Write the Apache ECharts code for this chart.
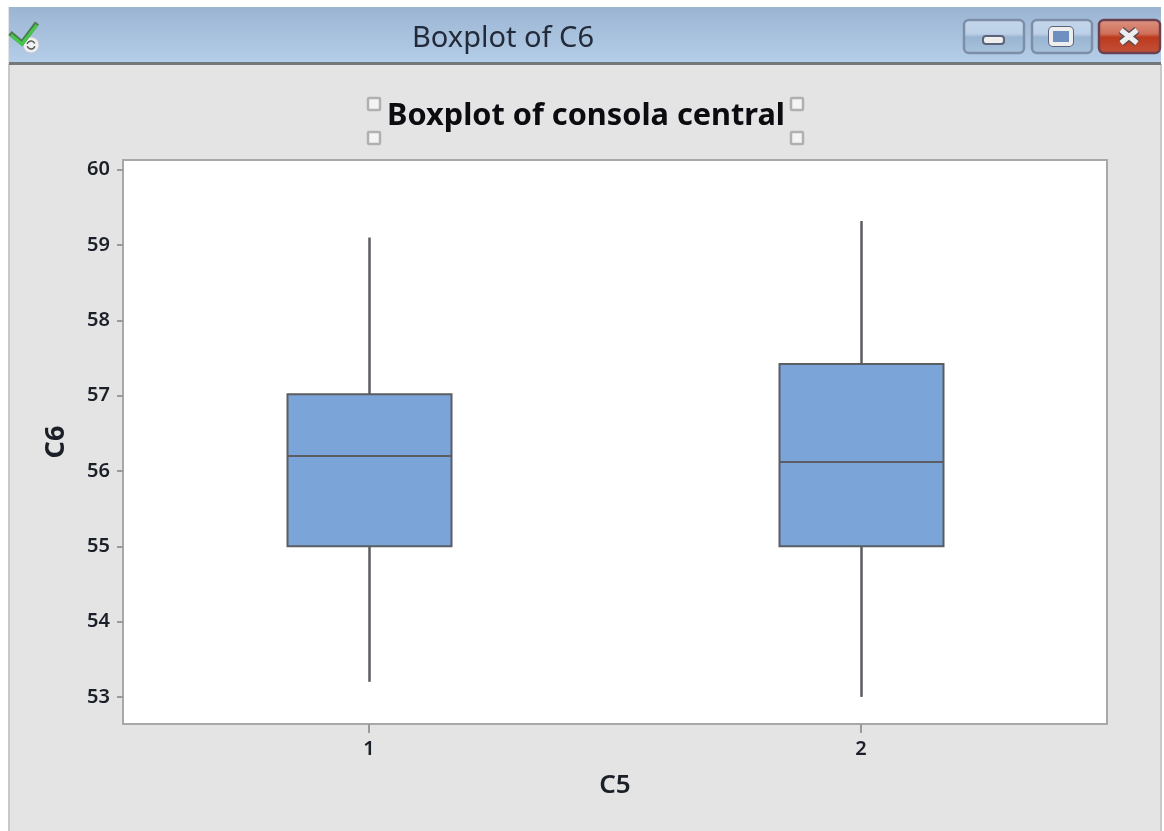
<!DOCTYPE html>
<html><head><meta charset="utf-8">
<style>html,body{margin:0;padding:0;background:#fff}#c{width:1164px;height:831px}</style>
<script src="https://cdn.jsdelivr.net/npm/echarts@6/dist/echarts.min.js"></script>
</head><body><div id="c"></div>
<script>
const categories = ['1', '2'];
const whiskerLow = [53.2, 53.0];
const q1 = [55.0, 55.0];
const median = [56.2, 56.12];
const q3 = [57.02, 57.42];
const whiskerHigh = [59.1, 59.32];
const yTicks = [53, 54, 55, 56, 57, 58, 59, 60];
const chartTitle = 'Boxplot of consola central';
const windowTitle = 'Boxplot of C6';
const xName = 'C5';
const yName = 'C6';

const FONT = '"Noto Sans", "Open Sans", sans-serif';
const TXT = '#1b1f28';
const LINE = '#5a5d62';
const FILL = '#7ba5d8';

const chart = echarts.init(document.getElementById('c'), null, {renderer: 'canvas'});

function handle(x, y) {
  return {type: 'rect', shape: {x: x, y: y, width: 12, height: 12, r: 1},
    style: {fill: '#f4f4f4', stroke: '#b0b0b0', lineWidth: 2.5}, z: -5};
}
function winButton(x, w, top, mid1, mid2, bottom, stroke) {
  return {type: 'rect', shape: {x: x, y: 20, width: w, height: 33, r: 5},
    style: {
      fill: new echarts.graphic.LinearGradient(0, 0, 0, 1, [
        {offset: 0, color: top}, {offset: 0.42, color: mid1},
        {offset: 0.52, color: mid2}, {offset: 1, color: bottom}]),
      stroke: stroke, lineWidth: 2.5}, z: -5};
}

const chrome = [
  {type: 'rect', shape: {x: 8, y: 7, width: 1153, height: 824}, style: {fill: '#e4e4e4'}, z: -10},
  {type: 'rect', shape: {x: 8, y: 64, width: 2, height: 767}, style: {fill: '#c8c8c8'}, z: -9},
  {type: 'rect', shape: {x: 1160, y: 64, width: 2, height: 767}, style: {fill: '#c8c8c8'}, z: -9},
  {type: 'rect', shape: {x: 9, y: 7, width: 1152, height: 55},
    style: {fill: new echarts.graphic.LinearGradient(0, 0, 0, 1, [
      {offset: 0, color: '#9ab4d2'}, {offset: 1, color: '#b4cee9'}])}, z: -9},
  {type: 'rect', shape: {x: 9, y: 62, width: 1152, height: 3}, style: {fill: '#74787c'}, z: -8},
  {type: 'circle', shape: {cx: 31, cy: 45, r: 8}, style: {fill: '#eef0f2', stroke: '#c4c8ce', lineWidth: 1}, z: -7},
  {type: 'polyline', shape: {points: [[10, 33], [22, 43], [37, 23]]},
    style: {stroke: '#4d7a52', fill: 'none', lineWidth: 5}, z: -6},
  {type: 'polyline', shape: {points: [[11, 35], [22, 44], [37, 25]]},
    style: {stroke: '#45c84a', fill: 'none', lineWidth: 3}, z: -5},
  {type: 'arc', shape: {cx: 31, cy: 45, r: 4, startAngle: 0.3, endAngle: 2.8}, style: {stroke: '#555', fill: 'none', lineWidth: 1.5}, z: -5},
  {type: 'arc', shape: {cx: 31, cy: 45, r: 4, startAngle: 3.4, endAngle: 5.9}, style: {stroke: '#555', fill: 'none', lineWidth: 1.5}, z: -5},
  {type: 'text', style: {x: 503, y: 39, text: windowTitle, fill: '#232a3a', font: '29px ' + FONT, textAlign: 'center', textVerticalAlign: 'middle'}, z: -5},
  winButton(964, 60, '#c4d7ec', '#bcd0e7', '#9ab5d1', '#a9c3de', '#7d8ea6'),
  winButton(1032, 60, '#c4d7ec', '#bcd0e7', '#9ab5d1', '#a9c3de', '#7d8ea6'),
  winButton(1099, 61, '#dd9584', '#d0705a', '#bd3a1d', '#c2533a', '#6b4150'),
  {type: 'rect', shape: {x: 983, y: 36, width: 21, height: 8, r: 3}, style: {fill: '#eeeeee', stroke: '#5c6378', lineWidth: 2}, z: -4},
  {type: 'rect', shape: {x: 1051, y: 29, width: 20, height: 15, r: 2}, style: {fill: '#6f8fc0', stroke: '#5c6378', lineWidth: 6}, z: -4},
  {type: 'rect', shape: {x: 1051, y: 29, width: 20, height: 15, r: 2}, style: {fill: '#6f8fc0', stroke: '#eeeeee', lineWidth: 4}, z: -3},
  {type: 'line', shape: {x1: 1121, y1: 30, x2: 1137, y2: 43}, style: {stroke: '#5a4a55', lineWidth: 8}, z: -4},
  {type: 'line', shape: {x1: 1137, y1: 30, x2: 1121, y2: 43}, style: {stroke: '#5a4a55', lineWidth: 8}, z: -4},
  {type: 'line', shape: {x1: 1121, y1: 30, x2: 1137, y2: 43}, style: {stroke: '#eeeeee', lineWidth: 5}, z: -3},
  {type: 'line', shape: {x1: 1137, y1: 30, x2: 1121, y2: 43}, style: {stroke: '#eeeeee', lineWidth: 5}, z: -3},
  handle(368, 98), handle(791, 98), handle(368, 132), handle(791, 132)
];

function renderBox(params, api) {
  const i = api.value(0);
  const x = api.coord([i, 0])[0] + 0.5;
  const half = api.size([1, 0])[0] / 6;
  const y = v => api.coord([i, api.value(v)])[1];
  const st = {stroke: LINE, lineWidth: 2.5, fill: null};
  const seg = (a, b) => ({type: 'line', shape: {x1: x, y1: y(a), x2: x, y2: y(b)}, style: st});
  return {type: 'group', children: [
    seg(1, 2), seg(4, 5),
    {type: 'rect', shape: {x: x - half, y: y(4), width: half * 2, height: y(2) - y(4)},
      style: {fill: FILL, stroke: LINE, lineWidth: 2}},
    {type: 'line', shape: {x1: x - half, y1: y(3), x2: x + half, y2: y(3)}, style: {stroke: LINE, lineWidth: 2, fill: null}}
  ]};
}

chart.setOption({
  animation: false,
  backgroundColor: '#ffffff',
  graphic: {elements: chrome},
  title: {text: chartTitle, left: 581, top: 96, textAlign: 'center',
    textStyle: {fontFamily: FONT, fontWeight: 'bold', fontSize: 30.7, color: '#0c0c10'}},
  grid: {left: 123, right: 57, top: 160, bottom: 107, show: true,
    backgroundColor: '#ffffff', borderColor: '#a8a8a8', borderWidth: 2},
  xAxis: {type: 'category', data: categories, name: xName, nameLocation: 'middle', nameGap: 49,
    nameTextStyle: {fontFamily: FONT, fontSize: 26, fontWeight: 600, color: TXT},
    axisLine: {show: false},
    axisTick: {show: true, alignWithLabel: true, length: 9, lineStyle: {color: '#9a9a9a', width: 2}},
    axisLabel: {fontFamily: FONT, fontSize: 20, fontWeight: 600, color: TXT, margin: 15}},
  yAxis: {type: 'value', min: 52.64, max: 60.13, name: yName, nameLocation: 'middle', nameGap: 53,
    nameTextStyle: {fontFamily: FONT, fontSize: 27, fontWeight: 'bold', color: TXT},
    splitLine: {show: false},
    axisLine: {show: false},
    axisTick: {show: true, length: 6, customValues: yTicks, lineStyle: {color: '#9a9a9a', width: 2}},
    axisLabel: {fontFamily: FONT, fontSize: 20, fontWeight: 600, color: TXT, margin: 13, padding: [3, 0, 0, 0], customValues: yTicks, formatter: v => String(v)}},
  series: [{
    type: 'custom',
    renderItem: renderBox,
    encode: {x: 0, y: [1, 2, 3, 4, 5]},
    data: categories.map((c, i) => [i, whiskerLow[i], q1[i], median[i], q3[i], whiskerHigh[i]]),
    clip: false
  }]
});
</script></body></html>
